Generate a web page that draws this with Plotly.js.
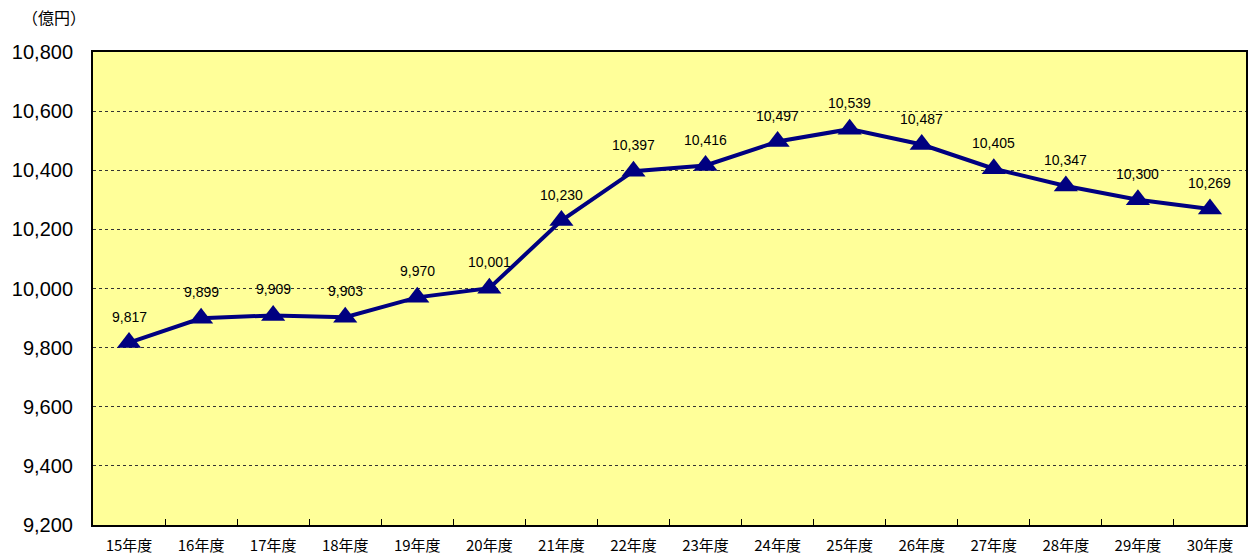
<!DOCTYPE html>
<html><head><meta charset="utf-8">
<script src="https://cdn.plot.ly/plotly-3.0.1.min.js"></script>
<style>html,body{margin:0;padding:0;background:#fff}#c{width:1253px;height:557px}</style>
</head><body><div id="c"></div>
<script>
const categories = ["15年度","16年度","17年度","18年度","19年度","20年度","21年度","22年度","23年度","24年度","25年度","26年度","27年度","28年度","29年度","30年度"];
const values = [9817,9899,9909,9903,9970,10001,10230,10397,10416,10497,10539,10487,10405,10347,10300,10269];
const yTicks = [9200,9400,9600,9800,10000,10200,10400,10600,10800];
const yTickLabels = ["9,200","9,400","9,600","9,800","10,000","10,200","10,400","10,600","10,800"];
const unitLabel = "（億円）";

const fmt = v => v.toLocaleString("en-US");

const valueLabels = categories.map((c, i) => ({
  x: c, y: values[i], xref: "x", yref: "y", text: fmt(values[i]),
  showarrow: false, yshift: 26, xanchor: "center", yanchor: "middle",
  font: {family: "Liberation Sans, Arial, sans-serif", size: 14, color: "#000"}
}));

Plotly.newPlot("c", [{
  x: categories, y: values, type: "scatter", mode: "lines+markers",
  line: {color: "#000080", width: 4},
  marker: {symbol: "triangle-up", size: 21, color: "#000080"},
  cliponaxis: false, hoverinfo: "none"
}], {
  width: 1253, height: 557,
  margin: {l: 93, r: 7, t: 52, b: 32},
  paper_bgcolor: "#fff", plot_bgcolor: "#FFFF99",
  showlegend: false,
  xaxis: {
    type: "category", range: [-0.5, 15.5], tickson: "boundaries", ticks: "inside", ticklen: 6, tickcolor: "#000", tickwidth: 1,
    showline: true, linecolor: "#000", linewidth: 2, mirror: true,
    showgrid: false, zeroline: false, ticklabelstandoff: 6,
    tickfont: {family: "Noto Sans CJK JP, sans-serif", size: 15, color: "#000"},
    fixedrange: true
  },
  yaxis: {
    range: [9200, 10800], tickvals: yTicks, ticktext: yTickLabels,
    showline: true, linecolor: "#000", linewidth: 2, mirror: true,
    showgrid: true, gridcolor: "#333", griddash: "dot", gridwidth: 1,
    zeroline: false, ticks: "", ticklabelstandoff: 14,
    tickfont: {family: "Liberation Sans, Arial, sans-serif", size: 20, color: "#000"},
    fixedrange: true
  },
  annotations: valueLabels.concat([{
    text: unitLabel, xref: "paper", yref: "paper", x: (20 - 93) / 1153, y: 1 + 35 / 473,
    xanchor: "left", yanchor: "middle", showarrow: false,
    font: {family: "Noto Sans CJK JP, sans-serif", size: 16, color: "#000"}
  }])
}, {staticPlot: true});
</script></body></html>
